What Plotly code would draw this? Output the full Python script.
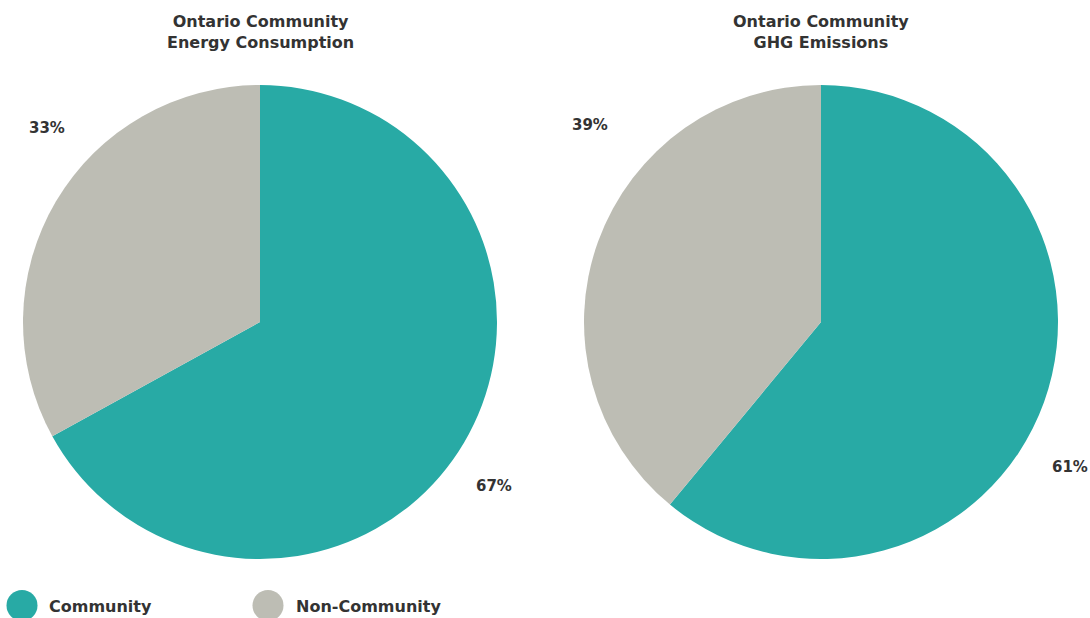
import plotly.graph_objects as go

W, H = 1090, 618

categories = ["Community", "Non-Community"]
energy_share = [67, 33]
ghg_share = [61, 39]
titles = ["Ontario Community<br>Energy Consumption", "Ontario Community<br>GHG Emissions"]

colors = ["#28aaa5", "#bdbdb4"]
text_color = "#333333"
font_family = "DejaVu Sans, Arial, sans-serif"


def px_x(x):
    return x / W


def px_y(y):
    return 1 - y / H


R = 237
centers = [(260, 322), (821, 322)]

fig = go.Figure()
for (cx, cy), vals in zip(centers, [energy_share, ghg_share]):
    fig.add_trace(go.Pie(
        labels=categories,
        values=vals,
        sort=False,
        direction="clockwise",
        rotation=0,
        marker=dict(colors=colors, line=dict(width=0)),
        textinfo="none",
        hoverinfo="label+percent",
        showlegend=False,
        domain=dict(x=[px_x(cx - R), px_x(cx + R)], y=[px_y(cy + R), px_y(cy - R)]),
    ))

annotations = []
# chart titles
for (cx, _), t in zip(centers, titles):
    annotations.append(dict(
        x=px_x(cx), y=px_y(32), xref="paper", yref="paper",
        text=t, showarrow=False, xanchor="center", yanchor="middle",
        font=dict(family=font_family, size=16, color=text_color, weight="bold"),
    ))

# percentage labels beside each slice
label_pos = [
    [(494, 486), (47, 128)],
    [(1070, 467), (590, 125)],
]
for vals, positions in zip([energy_share, ghg_share], label_pos):
    for v, (lx, ly) in zip(vals, positions):
        annotations.append(dict(
            x=px_x(lx), y=px_y(ly), xref="paper", yref="paper",
            text=f"{v}%", showarrow=False, xanchor="center", yanchor="middle",
            font=dict(family=font_family, size=15, color=text_color, weight="bold"),
        ))

# legend: circle swatches with bold labels
shapes = []
legend_items = [(22, 47), (268, 294)]
for (sx, tx), name, col in zip(legend_items, categories, colors):
    shapes.append(dict(
        type="circle", xref="paper", yref="paper",
        xsizemode="pixel", ysizemode="pixel",
        xanchor=px_x(sx), yanchor=px_y(605.5),
        x0=-15.5, x1=15.5, y0=-15.5, y1=15.5,
        fillcolor=col, line=dict(width=0),
    ))
    annotations.append(dict(
        x=px_x(tx), y=px_y(606), xref="paper", yref="paper",
        text=name, showarrow=False, xanchor="left", yanchor="middle",
        font=dict(family=font_family, size=16, color=text_color, weight="bold"),
    ))

fig.update_layout(
    width=W, height=H,
    margin=dict(l=0, r=0, t=0, b=0),
    paper_bgcolor="white",
    plot_bgcolor="white",
    annotations=annotations,
    shapes=shapes,
)

fig.write_html("out.html")
